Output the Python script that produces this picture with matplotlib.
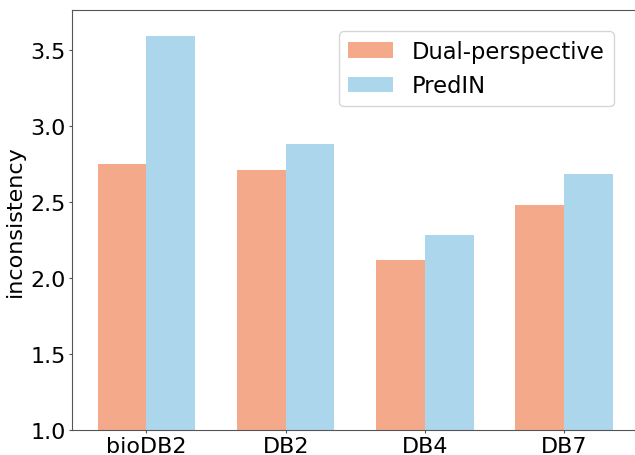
import matplotlib.pyplot as plt
import numpy as np

datasets = ['bioDB2', 'DB2', 'DB4', 'DB7']
dual = [2.75, 2.71, 2.12, 2.48]
predin = [3.59, 2.88, 2.28, 2.68]

x = np.arange(len(datasets))
width = 0.35

fig = plt.figure(figsize=(6.35, 4.56), dpi=100)
ax = fig.add_axes([0.1134, 0.0548, 0.892, 0.921])

ax.bar(x - width / 2, dual, width, color='#F3A98A', label='Dual-perspective')
ax.bar(x + width / 2, predin, width, color='#ACD6EB', label='PredIN')

ax.set_ylim(1.0, 3.76)
ax.set_xticks(x)
ax.set_xticklabels(datasets)
ax.set_yticks([1.0, 1.5, 2.0, 2.5, 3.0, 3.5])
ax.tick_params(labelsize=16, length=2.5, pad=2, color='#555555')
ax.set_ylabel('inconsistency', fontsize=16, labelpad=4)

for s in ax.spines.values():
    s.set_color('#555555')

ax.legend(fontsize=16.3, loc='upper right', bbox_to_anchor=(0.956, 0.95),
          borderaxespad=0)

fig.savefig('out.png', dpi=100)
